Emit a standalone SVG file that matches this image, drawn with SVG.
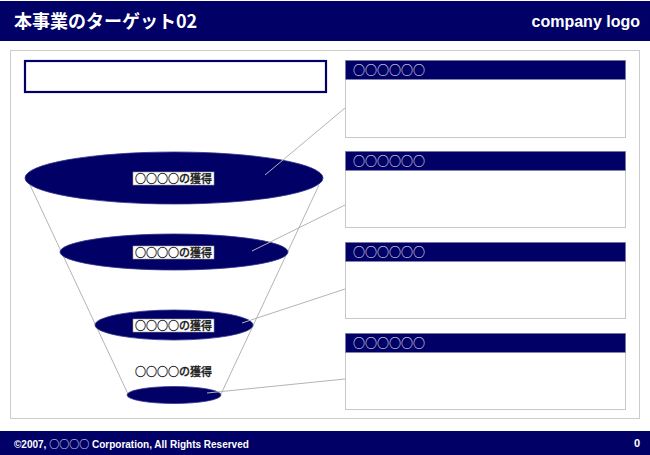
<svg xmlns="http://www.w3.org/2000/svg" width="650" height="455" viewBox="0 0 650 455">
  <style>
    .navy { fill: #000066; }
    .hdrtxt { font-family: "Liberation Sans", "Noto Sans CJK JP", sans-serif; font-weight: bold; fill: #ffffff; }
    .cjk { font-family: "Noto Sans CJK JP", sans-serif; }
    .box { fill: #ffffff; stroke: #c8c8c8; stroke-width: 1; }
    .bar { fill: #000066; stroke: #8888aa; stroke-width: 0.5; }
    .bartxt { font-family: "Noto Sans CJK JP", sans-serif; font-size: 12px; fill: #ffffff; }
    .ell { fill: #000066; stroke: #33338a; stroke-width: 0.8; }
    .lbl { fill: #ffffff; stroke: #999999; stroke-width: 0.6; }
    .lbltxt { font-family: "Noto Sans CJK JP", sans-serif; font-size: 11px; font-weight: 500; fill: #1a1a1a; stroke: #1a1a1a; stroke-width: 0.3; text-anchor: middle; }
    .conn { stroke: #b4b4b4; stroke-width: 1; fill: none; }
  </style>

  <rect x="0" y="0" width="650" height="455" fill="#ffffff"/>

  <g id="header">
    <rect x="0" y="1" width="650" height="40" class="navy"/>
    <text x="14" y="28" class="hdrtxt cjk" font-size="18">本事業のターゲット02</text>
    <text x="640" y="27" class="hdrtxt" font-size="16" text-anchor="end">company logo</text>
  </g>

  <g id="footer">
    <rect x="0" y="431" width="650" height="24" class="navy"/>
    <text x="14" y="448" class="hdrtxt" font-size="10">©2007, <tspan class="cjk" font-weight="normal">○○○○</tspan> Corporation, All Rights Reserved</text>
    <text x="640" y="447" class="hdrtxt" font-size="11" text-anchor="end">0</text>
  </g>

  <g id="frame">
    <rect x="10.5" y="50.5" width="629" height="368" fill="none" stroke="#cccccc" stroke-width="1"/>
  </g>

  <g id="title-box">
    <rect x="25" y="61" width="301" height="31" fill="#ffffff" stroke="#000066" stroke-width="2.2"/>
  </g>

  <g id="funnel-sides">
    <line x1="30" y1="185" x2="128" y2="394" class="conn"/>
    <line x1="319" y1="185" x2="221" y2="394" class="conn"/>
  </g>

  <g id="level1">
    <ellipse cx="174" cy="178" rx="149" ry="26" class="ell"/>
  </g>
  <g id="level2">
    <ellipse cx="174" cy="252" rx="114" ry="18" class="ell"/>
  </g>
  <g id="level3">
    <ellipse cx="174" cy="325" rx="79" ry="15" class="ell"/>
  </g>
  <g id="level4">
    <ellipse cx="174" cy="395" rx="47" ry="8.5" class="ell"/>
  </g>

  <g id="connectors">
    <line x1="265" y1="175" x2="345" y2="108" class="conn"/>
    <line x1="252" y1="251" x2="345" y2="205" class="conn"/>
    <line x1="242" y1="323" x2="345" y2="289" class="conn"/>
    <line x1="207" y1="393" x2="345" y2="379" class="conn"/>
  </g>

  <g id="label1">
    <rect x="133" y="172" width="81" height="13" class="lbl"/>
    <text x="173.5" y="182.5" class="lbltxt">○○○○の獲得</text>
  </g>
  <g id="label2">
    <rect x="133" y="246" width="81" height="13" class="lbl"/>
    <text x="173.5" y="256.5" class="lbltxt">○○○○の獲得</text>
  </g>
  <g id="label3">
    <rect x="133" y="319" width="81" height="13" class="lbl"/>
    <text x="173.5" y="329.5" class="lbltxt">○○○○の獲得</text>
  </g>
  <g id="label4">
    <text x="173.5" y="376" class="lbltxt">○○○○の獲得</text>
  </g>

  <g id="panel1">
    <rect x="345.5" y="60.5" width="280" height="77" class="box"/>
    <rect x="345.5" y="60.5" width="280" height="19" class="bar"/>
    <text x="353" y="74.5" class="bartxt">○○○○○○</text>
  </g>
  <g id="panel2">
    <rect x="345.5" y="151.5" width="280" height="76" class="box"/>
    <rect x="345.5" y="151.5" width="280" height="19" class="bar"/>
    <text x="353" y="165.5" class="bartxt">○○○○○○</text>
  </g>
  <g id="panel3">
    <rect x="345.5" y="242.5" width="280" height="76" class="box"/>
    <rect x="345.5" y="242.5" width="280" height="19" class="bar"/>
    <text x="353" y="256.5" class="bartxt">○○○○○○</text>
  </g>
  <g id="panel4">
    <rect x="345.5" y="333.5" width="280" height="76" class="box"/>
    <rect x="345.5" y="333.5" width="280" height="19" class="bar"/>
    <text x="353" y="347.5" class="bartxt">○○○○○○</text>
  </g>
</svg>
